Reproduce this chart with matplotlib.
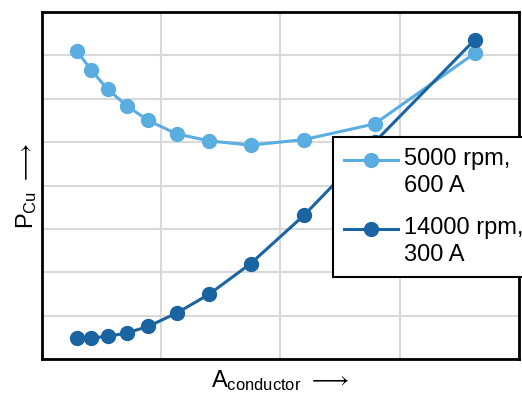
import numpy as np
import matplotlib
matplotlib.use("Agg")
import matplotlib.pyplot as plt
from matplotlib.lines import Line2D
from matplotlib.legend_handler import HandlerLine2D

plt.rcParams['font.family'] = ['Liberation Sans', 'DejaVu Sans']
plt.rcParams['mathtext.fontset'] = 'custom'
plt.rcParams['mathtext.rm'] = 'Liberation Sans'

# conductor area (arbitrary units) and copper losses (arbitrary units)
x_low = [0.29, 0.41, 0.55, 0.71, 0.89, 1.13, 1.40, 1.75, 2.20, 2.79, 3.63]
p_low = [7.11, 6.67, 6.22, 5.84, 5.50, 5.19, 5.03, 4.93, 5.06, 5.42, 7.05]
x_high = [0.29, 0.41, 0.55, 0.71, 0.89, 1.13, 1.40, 1.75, 2.20, 2.79, 3.63]
p_high = [0.49, 0.49, 0.52, 0.60, 0.75, 1.06, 1.49, 2.20, 3.32, 5.00, 7.36]
labels = ['5000 rpm,\n600 A', '14000 rpm,\n300 A']


class TopLineHandler(HandlerLine2D):
    # lift the handle up to the first text line
    def create_artists(self, legend, orig_handle, xdescent, ydescent,
                       width, height, fontsize, trans):
        return super().create_artists(legend, orig_handle, xdescent,
                                      ydescent - 18, width, height,
                                      fontsize, trans)


fig = plt.figure(figsize=(5.22, 3.94), dpi=100)
ax = fig.add_axes([0.0805, 0.0888, 0.9135, 0.8807])

ax.plot(x_low, p_low, '-o', color='#5aade0', lw=2.2, ms=10, label=labels[0], zorder=3)
ax.plot(x_high, p_high, '-o', color='#1a64a2', lw=2.2, ms=10, label=labels[1], zorder=3)

ax.set_xlim(0, 4)
ax.set_ylim(0, 8)
ax.set_xticks(np.arange(0, 5, 1))
ax.set_yticks(np.arange(0, 9, 1))
ax.tick_params(length=0, labelbottom=False, labelleft=False)
ax.grid(True, color='#d9d9d9', lw=1.5, zorder=0)
for s in ax.spines.values():
    s.set_linewidth(2)
    s.set_color('black')

fig.text(0.05, 0.53, r'$\mathregular{P_{Cu}}$ $\longrightarrow$', rotation=90,
         ha='center', va='center', fontsize=17)
fig.text(0.537, 0.035, r'$\mathregular{A_{conductor}}$ $\longrightarrow$',
         ha='center', va='center', fontsize=17)

leg = fig.legend(loc='upper left', bbox_to_anchor=(0.638, 0.652), fontsize=17,
                 fancybox=False, framealpha=1, edgecolor='black',
                 handlelength=2.3, handletextpad=0.25, labelspacing=0.85,
                 borderpad=0.45, borderaxespad=0,
                 handler_map={Line2D: TopLineHandler()})
leg.get_frame().set_linewidth(1.5)
for t in leg.get_texts():
    t.set_linespacing(1.3)

fig.savefig('out.png', dpi=100)
